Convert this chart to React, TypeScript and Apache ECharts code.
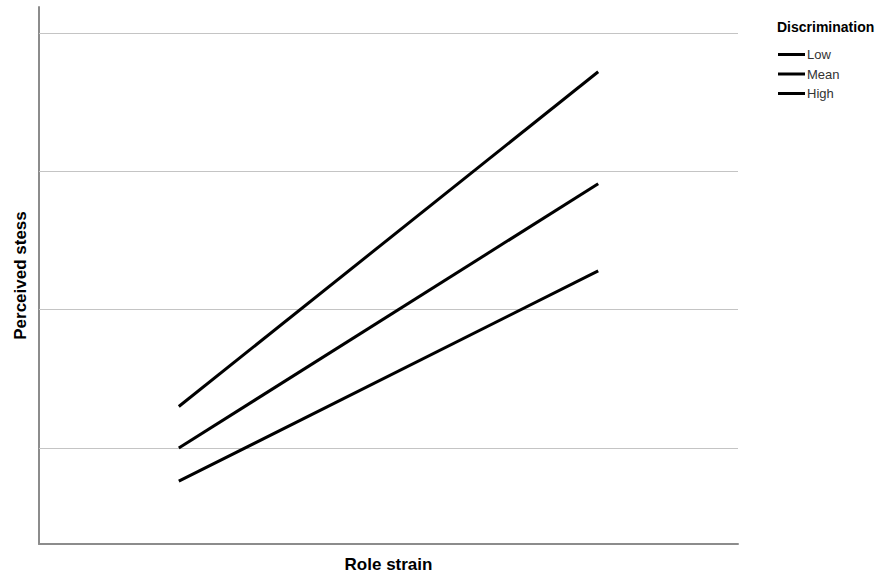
import React, { useEffect, useRef } from "react";
import * as echarts from "echarts";

const seriesNames = ["Low", "Mean", "High"];
const xPoints = [0.2, 0.8];
const lowValues = [0.76, 2.28];
const meanValues = [1.0, 2.91];
const highValues = [1.3, 3.72];
const gridValues = [1, 2, 3, 4];
const legendTitle = "Discrimination";
const xName = "Role strain";
const yName = "Perceived stess";

export default function App() {
  const ref = useRef<HTMLDivElement>(null);
  useEffect(() => {
    if (!ref.current) return;
    const chart = echarts.init(ref.current, null, { renderer: "svg" });
    const font = "'Liberation Sans', Arial, sans-serif";
    const allValues = [lowValues, meanValues, highValues];
    const series: any[] = seriesNames.map((name, i) => ({
      name,
      type: "line",
      data: xPoints.map((x, j) => [x, allValues[i][j]]),
      symbol: "none",
      lineStyle: { color: "#000", width: 3 },
      itemStyle: { color: "#000" },
      z: 5,
    }));
    series[0].markLine = {
      silent: true,
      symbol: "none",
      label: { show: false },
      lineStyle: { color: "#c4c4c4", width: 1, type: "solid" },
      data: gridValues.map((v) => ({ yAxis: v })),
      z: 1,
    };
    chart.setOption({
      animation: false,
      backgroundColor: "#fff",
      textStyle: { fontFamily: font },
      title: {
        text: legendTitle,
        left: 772,
        top: 15,
        textStyle: { fontFamily: font, fontSize: 14, fontWeight: "bold", color: "#000" },
      },
      legend: {
        data: seriesNames,
        orient: "vertical",
        left: 773,
        top: 43,
        icon: "rect",
        itemWidth: 27,
        itemHeight: 3,
        itemGap: 6.5,
        textStyle: { fontFamily: font, fontSize: 13, color: "#333", padding: [0, 0, 0, -3] },
      },
      grid: { left: 39, right: 139, top: 7, bottom: 42 },
      xAxis: {
        type: "value",
        min: 0,
        max: 1,
        name: xName,
        nameLocation: "middle",
        nameGap: 12,
        nameTextStyle: { fontFamily: font, fontSize: 17, fontWeight: "bold", color: "#000" },
        axisLine: { show: true, lineStyle: { color: "#8c8c8c", width: 2 } },
        axisTick: { show: false },
        axisLabel: { show: false },
        splitLine: { show: false },
      },
      yAxis: {
        type: "value",
        min: 0.306,
        max: 4.188,
        name: yName,
        nameLocation: "middle",
        nameGap: 10,
        nameTextStyle: { fontFamily: font, fontSize: 17, fontWeight: "bold", color: "#000" },
        axisLine: { show: true, onZero: false, lineStyle: { color: "#8c8c8c", width: 2 } },
        axisTick: { show: false },
        axisLabel: { show: false },
        splitLine: { show: false },
      },
      series,
    });
    return () => chart.dispose();
  }, []);
  return (
    <div
      ref={ref}
      style={{ position: "fixed", left: 0, top: 0, width: 877, height: 586 }}
    />
  );
}
